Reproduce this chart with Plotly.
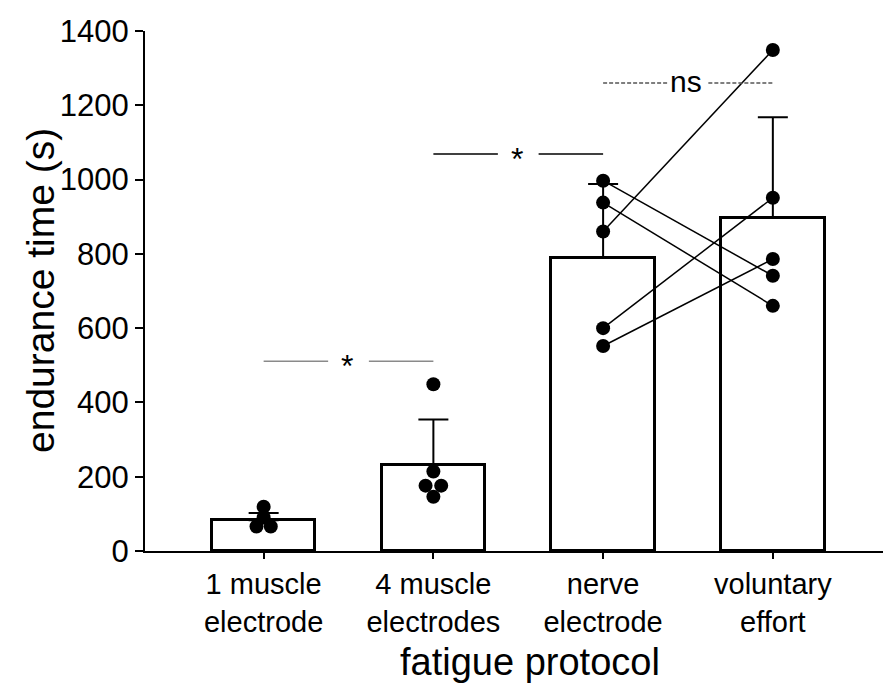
import plotly.graph_objects as go

# Fatigue protocols on the x axis
categories = ["1 muscle<br>electrode", "4 muscle<br>electrodes", "nerve<br>electrode", "voluntary<br>effort"]

# Group mean and SD of endurance time (s)
mean_time = [83, 232, 789, 897]
sd_time = [19, 122, 199, 271]

# Individual endurance times (s)
one_muscle = [119, 90, 66, 66]
four_muscle = [449, 214, 176, 176, 146]
nerve = [997, 938, 860, 600, 552]          # paired with `voluntary` by participant
voluntary = [741, 660, 1349, 951, 786]

# Small horizontal offsets so overlapping points stay visible
one_muscle_offset = [0, 0, -0.042, 0.042]
four_muscle_offset = [0, 0, -0.046, 0.046, 0]

# Significance brackets: (left group, right group, height, label, colour, dash, label shift)
brackets = [(0, 1, 511, "*", "#8a8a8a", "solid", -5),
            (1, 2, 1069, "*", "black", "solid", -5),
            (2, 3, 1260, "ns", "#555555", "4px,2px", 2)]

FONT = "Liberation Sans, Arial, sans-serif"
W, H = 883, 683
M = dict(l=145, r=0, t=31, b=132)

fig = go.Figure()

x_idx = list(range(len(categories)))

fig.add_trace(go.Bar(
    x=x_idx, y=mean_time, width=0.61,
    marker=dict(color="white", line=dict(color="black", width=3)),
    error_y=dict(type="data", array=sd_time, arrayminus=[0] * len(sd_time),
                 symmetric=False, color="black", thickness=2, width=15),
    showlegend=False, hoverinfo="skip",
))

# Paired lines nerve -> voluntary
for a, b in zip(nerve, voluntary):
    fig.add_trace(go.Scatter(x=[2, 3], y=[a, b], mode="lines",
                             line=dict(color="black", width=1.5),
                             showlegend=False, hoverinfo="skip"))

dot = dict(color="black", size=14)
fig.add_trace(go.Scatter(x=[0 + o for o in one_muscle_offset], y=one_muscle,
                         mode="markers", marker=dot, showlegend=False))
fig.add_trace(go.Scatter(x=[1 + o for o in four_muscle_offset], y=four_muscle,
                         mode="markers", marker=dot, showlegend=False))
fig.add_trace(go.Scatter(x=[2] * len(nerve), y=nerve,
                         mode="markers", marker=dot, showlegend=False))
fig.add_trace(go.Scatter(x=[3] * len(voluntary), y=voluntary,
                         mode="markers", marker=dot, showlegend=False))

# Significance brackets with a gap around the label
gap = 0.12
for i, j, yb, label, col, dash, shift in brackets:
    mid = (i + j) / 2
    for xs in ([i, mid - gap], [mid + gap, j]):
        fig.add_trace(go.Scatter(x=xs, y=[yb, yb], mode="lines",
                                 line=dict(color=col, width=1.5, dash=dash),
                                 showlegend=False, hoverinfo="skip"))
    fig.add_annotation(x=mid - 0.01, y=yb, text=label, showarrow=False,
                       xanchor="center", yanchor="middle", yshift=shift,
                       font=dict(family=FONT, size=32 if label == "*" else 30, color="black"))

plot_w = W - M["l"] - M["r"]
plot_h = H - M["t"] - M["b"]


def px_x(px):
    return (px - M["l"]) / plot_w


def px_y(py):
    return (H - M["b"] - py) / plot_h


fig.add_annotation(xref="paper", yref="paper", x=px_x(40), y=0.5,
                   text="endurance time (s)", textangle=-90, showarrow=False,
                   xanchor="center", yanchor="middle",
                   font=dict(family=FONT, size=39, color="black"))
fig.add_annotation(xref="paper", yref="paper", x=px_x(530), y=px_y(662),
                   text="fatigue protocol", showarrow=False,
                   xanchor="center", yanchor="middle",
                   font=dict(family=FONT, size=38, color="black"))

fig.update_layout(
    width=W, height=H, margin=M,
    paper_bgcolor="white", plot_bgcolor="white",
    font=dict(family=FONT, color="black"),
    bargap=0,
    xaxis=dict(range=[-0.699, 3.649], tickvals=x_idx, ticktext=categories,
               showline=True, linecolor="black", linewidth=2,
               ticks="outside", ticklen=6, tickwidth=1.5, tickcolor="black",
               showgrid=False, zeroline=False,
               tickfont=dict(family=FONT, size=29, color="black")),
    yaxis=dict(range=[0, 1400], dtick=200, tick0=0,
               showline=True, linecolor="black", linewidth=2,
               ticks="outside", ticklen=8, tickwidth=1.5, tickcolor="black",
               showgrid=False, zeroline=False,
               tickfont=dict(family=FONT, size=31, color="black")),
)

fig.write_html("out.html")
